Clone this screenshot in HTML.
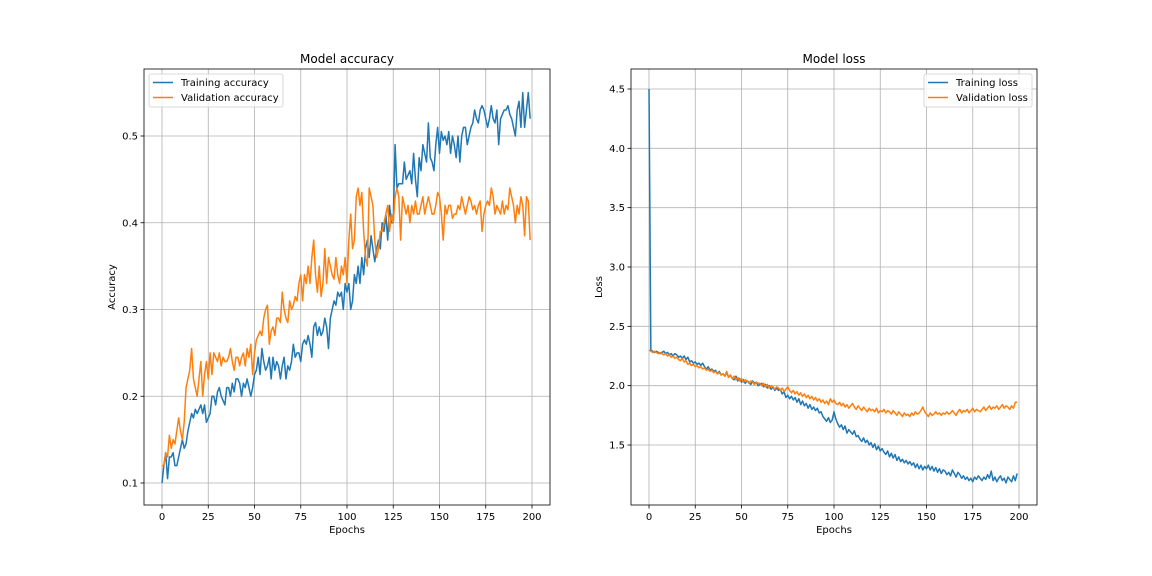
<!DOCTYPE html>
<html><head><meta charset="utf-8"><style>
html,body{margin:0;padding:0;background:#fff;}
svg{display:block;font-family:"DejaVu Sans","Liberation Sans",sans-serif;}
</style></head><body>
<svg id="fig" width="1152" height="576" viewBox="0 0 1152 576" xmlns="http://www.w3.org/2000/svg"></svg>
<script>
const epochs = Array.from({length:200},(_, i)=>i);
const trainAcc = [
.10,.12,.135,.105,.13,.13,.135,.12,.12,.13,
.14,.15,.14,.145,.16,.17,.18,.175,.185,.18,
.185,.19,.18,.19,.17,.175,.18,.2,.2,.19,
.205,.21,.2,.195,.19,.21,.21,.2,.215,.205,
.22,.22,.215,.2,.215,.21,.22,.21,.2,.21,
.225,.23,.245,.225,.255,.24,.23,.235,.245,.22,
.245,.23,.24,.235,.22,.235,.245,.22,.235,.23,
.24,.26,.245,.25,.25,.24,.26,.265,.26,.27,
.26,.245,.28,.285,.27,.28,.27,.275,.29,.28,
.255,.29,.3,.31,.305,.32,.315,.32,.3,.33,
.32,.33,.3,.31,.34,.33,.35,.33,.36,.34,
.37,.38,.36,.385,.37,.355,.37,.38,.37,.4,
.39,.41,.38,.42,.4,.4,.49,.44,.445,.445,
.445,.47,.45,.455,.46,.445,.48,.45,.43,.475,
.46,.49,.48,.47,.515,.475,.47,.46,.49,.51,
.48,.505,.495,.5,.49,.505,.48,.5,.49,.475,
.5,.47,.5,.51,.51,.49,.5,.51,.515,.53,
.52,.515,.53,.535,.53,.52,.51,.52,.535,.52,
.515,.53,.49,.52,.525,.53,.53,.535,.525,.52,
.51,.50,.53,.54,.51,.55,.51,.53,.55,.52];
const valAcc = [
.12,.12,.135,.13,.155,.14,.15,.145,.16,.175,
.16,.15,.17,.21,.22,.23,.255,.22,.21,.2,
.22,.24,.2,.225,.24,.22,.25,.225,.25,.245,
.24,.25,.235,.245,.24,.24,.245,.255,.24,.23,
.245,.245,.235,.245,.25,.235,.255,.245,.26,.225,
.25,.265,.27,.275,.27,.29,.3,.305,.26,.275,
.28,.27,.29,.29,.285,.32,.3,.29,.285,.31,
.3,.305,.315,.31,.33,.34,.31,.34,.33,.35,
.33,.36,.38,.34,.32,.35,.315,.33,.37,.33,
.36,.35,.34,.335,.36,.34,.33,.35,.34,.36,
.33,.38,.41,.37,.38,.43,.44,.42,.435,.39,
.36,.35,.44,.43,.42,.38,.36,.37,.39,.39,
.4,.41,.42,.39,.41,.4,.43,.44,.43,.38,
.43,.42,.41,.42,.40,.42,.41,.425,.41,.41,
.42,.43,.41,.42,.43,.42,.41,.41,.42,.435,
.43,.41,.38,.42,.41,.42,.42,.405,.41,.41,
.42,.415,.43,.42,.41,.42,.43,.425,.415,.42,
.41,.42,.425,.39,.41,.42,.425,.42,.44,.43,
.41,.42,.415,.41,.425,.41,.42,.415,.44,.43,
.42,.40,.42,.41,.43,.42,.385,.43,.425,.38];
const trainLoss = [
4.50,2.30,2.29,2.28,2.29,2.28,2.27,2.28,2.29,2.27,
2.28,2.26,2.27,2.25,2.27,2.26,2.24,2.25,2.23,2.25,
2.22,2.24,2.20,2.21,2.19,2.20,2.18,2.19,2.17,2.19,
2.16,2.14,2.16,2.13,2.14,2.12,2.13,2.10,2.12,2.09,
2.10,2.08,2.11,2.07,2.09,2.06,2.05,2.08,2.04,2.06,
2.03,2.05,2.02,2.04,2.03,2.01,2.04,2.02,2.03,2.00,
2.01,2.02,1.99,2.01,1.98,2.00,1.97,1.99,1.96,1.98,
1.96,1.97,1.93,1.95,1.90,1.92,1.89,1.91,1.88,1.90,
1.86,1.89,1.84,1.87,1.83,1.85,1.81,1.84,1.80,1.82,
1.79,1.81,1.77,1.78,1.74,1.72,1.70,1.73,1.69,1.71,
1.78,1.72,1.68,1.65,1.67,1.63,1.66,1.60,1.63,1.61,
1.59,1.62,1.57,1.58,1.55,1.53,1.56,1.52,1.54,1.50,
1.52,1.48,1.51,1.46,1.49,1.45,1.47,1.44,1.42,1.45,
1.40,1.43,1.39,1.42,1.37,1.40,1.36,1.38,1.35,1.37,
1.34,1.36,1.33,1.35,1.31,1.34,1.30,1.33,1.29,1.32,
1.30,1.33,1.29,1.32,1.28,1.31,1.27,1.30,1.26,1.29,
1.28,1.25,1.27,1.24,1.29,1.26,1.23,1.27,1.25,1.22,
1.24,1.21,1.23,1.20,1.22,1.19,1.23,1.21,1.24,1.22,
1.20,1.23,1.21,1.25,1.22,1.28,1.20,1.23,1.19,1.22,
1.24,1.20,1.22,1.18,1.23,1.21,1.19,1.24,1.20,1.26];
const valLoss = [
2.30,2.29,2.28,2.29,2.28,2.27,2.28,2.27,2.26,2.27,
2.25,2.26,2.24,2.25,2.23,2.24,2.22,2.21,2.23,2.20,
2.21,2.18,2.19,2.17,2.18,2.16,2.17,2.15,2.16,2.14,
2.15,2.13,2.14,2.12,2.13,2.11,2.12,2.10,2.11,2.09,
2.10,2.08,2.12,2.07,2.09,2.06,2.08,2.05,2.07,2.04,
2.06,2.03,2.05,2.04,2.02,2.04,2.03,2.01,2.03,2.02,
2.02,2.00,2.02,1.99,2.01,1.98,2.00,1.99,1.97,1.99,
1.98,1.96,1.98,1.95,1.97,1.99,1.96,1.94,1.96,1.93,
1.95,1.92,1.94,1.91,1.93,1.90,1.92,1.89,1.91,1.88,
1.90,1.87,1.89,1.86,1.88,1.85,1.87,1.84,1.89,1.86,
1.88,1.85,1.84,1.86,1.83,1.85,1.82,1.84,1.81,1.83,
1.85,1.82,1.80,1.83,1.81,1.79,1.82,1.80,1.78,1.81,
1.79,1.80,1.78,1.81,1.77,1.79,1.78,1.80,1.77,1.79,
1.78,1.76,1.79,1.77,1.75,1.78,1.76,1.74,1.77,1.75,
1.76,1.74,1.77,1.75,1.78,1.76,1.77,1.79,1.82,1.78,
1.76,1.74,1.77,1.75,1.76,1.78,1.76,1.77,1.75,1.77,
1.76,1.78,1.76,1.77,1.79,1.77,1.75,1.78,1.80,1.77,
1.79,1.78,1.80,1.77,1.79,1.81,1.78,1.80,1.79,1.78,
1.80,1.82,1.79,1.81,1.83,1.80,1.82,1.81,1.83,1.80,
1.82,1.84,1.81,1.83,1.82,1.80,1.83,1.81,1.86,1.86];
const xTicks = [0,25,50,75,100,125,150,175,200];
const accTicks = [0.1,0.2,0.3,0.4,0.5];
const lossTicks = [1.5,2.0,2.5,3.0,3.5,4.0,4.5];

const NS='http://www.w3.org/2000/svg';
const svg=document.getElementById('fig');
function mk(tag,attrs,parent,text){const e=document.createElementNS(NS,tag);for(const k in attrs)e.setAttribute(k,attrs[k]);if(text!==undefined)e.textContent=text;(parent||svg).appendChild(e);return e;}

function panel(cfg){
  const g=mk('g',{});
  
  
  const L=cfg.left,R=cfg.right,T=69,B=505;
  const sx=v=>cfg.x0+(v-0)*(cfg.x200-cfg.x0)/200;
  const sy=v=>cfg.yA+(v-cfg.vA)*(cfg.yB-cfg.yA)/(cfg.vB-cfg.vA);
  // grid
  xTicks.forEach(t=>{const l=mk('line',{x1:sx(t),x2:sx(t),y1:T,y2:B,stroke:'#b0b0b0','stroke-width':0.8},g);
    
    });
  cfg.ticks.forEach(t=>{const l=mk('line',{x1:L,x2:R,y1:sy(t),y2:sy(t),stroke:'#b0b0b0','stroke-width':0.8},g);
    
    });
  // ticks + labels
  xTicks.forEach(t=>{mk('line',{x1:sx(t),x2:sx(t),y1:B,y2:B+3.5,stroke:'#000','stroke-width':0.8},g);
    const tx=mk('text',{x:sx(t),y:B+15,'font-size':10,'text-anchor':'middle',fill:'#000'},g,String(t));
    
    });
  cfg.ticks.forEach(t=>{mk('line',{x1:L-3.5,x2:L,y1:sy(t),y2:sy(t),stroke:'#000','stroke-width':0.8},g);
    const tx=mk('text',{x:L-6,y:sy(t)+3.5,'font-size':10,'text-anchor':'end',fill:'#000'},g,cfg.fmt(t));
    
    });
  // series
  cfg.series.forEach(s=>{
    const p=mk('polyline',{points:s.data.map((v,i)=>sx(epochs[i]).toFixed(2)+','+sy(v).toFixed(2)).join(' '),fill:'none',stroke:s.color,'stroke-width':1.5,'stroke-linejoin':'round'},g);
    
    
  });
  // frame
  const f=mk('rect',{x:L,y:T,width:R-L,height:B-T,fill:'none',stroke:'#000','stroke-width':0.8},g);
  
  
  const ti=mk('text',{x:(L+R)/2,y:63,'font-size':12,'text-anchor':'middle',fill:'#000'},g,cfg.title);
  
  
  const xl=mk('text',{x:(L+R)/2,y:533,'font-size':10,'text-anchor':'middle',fill:'#000'},g,'Epochs');
  
  
  const yl=mk('text',{x:0,y:0,'font-size':10,'text-anchor':'middle',fill:'#000',transform:`translate(${cfg.ylx},${(T+B)/2}) rotate(-90)`},g,cfg.ylabel);
  
  
  // legend
  const lg=mk('g',{},g);
  
  
  mk('rect',{x:cfg.lgx,y:74,width:cfg.lgw,height:33,rx:2,fill:'#fff','fill-opacity':0.8,stroke:'#d0d0d0','stroke-width':0.8},lg);
  cfg.series.forEach((s,i)=>{
    const y=82+i*15;
    const e=mk('g',{},lg);
    
    
    mk('line',{x1:cfg.lgx+4,x2:cfg.lgx+24,y1:y+0.5,y2:y+0.5,stroke:s.color,'stroke-width':1.5},e);
    mk('text',{x:cfg.lgx+32,y:y+4,'font-size':10,fill:'#000'},e,s.label);
  });
}
panel({name:'accuracy-chart',left:144,right:550,x0:162,x200:532,vA:0.1,yA:483,vB:0.5,yB:136,ticks:accTicks,fmt:t=>t.toFixed(1),
  title:'Model accuracy',ylabel:'Accuracy',ylx:115,lgx:149,lgw:134,
  series:[{name:'training-accuracy-line',data:trainAcc,color:'#1f77b4',label:'Training accuracy'},
          {name:'validation-accuracy-line',data:valAcc,color:'#ff7f0e',label:'Validation accuracy'}]});
panel({name:'loss-chart',left:631,right:1037,x0:649,x200:1019,vA:1.5,yA:445,vB:4.5,yB:89,ticks:lossTicks,fmt:t=>t.toFixed(1),
  title:'Model loss',ylabel:'Loss',ylx:602,lgx:924,lgw:108,
  series:[{name:'training-loss-line',data:trainLoss,color:'#1f77b4',label:'Training loss'},
          {name:'validation-loss-line',data:valLoss,color:'#ff7f0e',label:'Validation loss'}]});
</script>
</body></html>
